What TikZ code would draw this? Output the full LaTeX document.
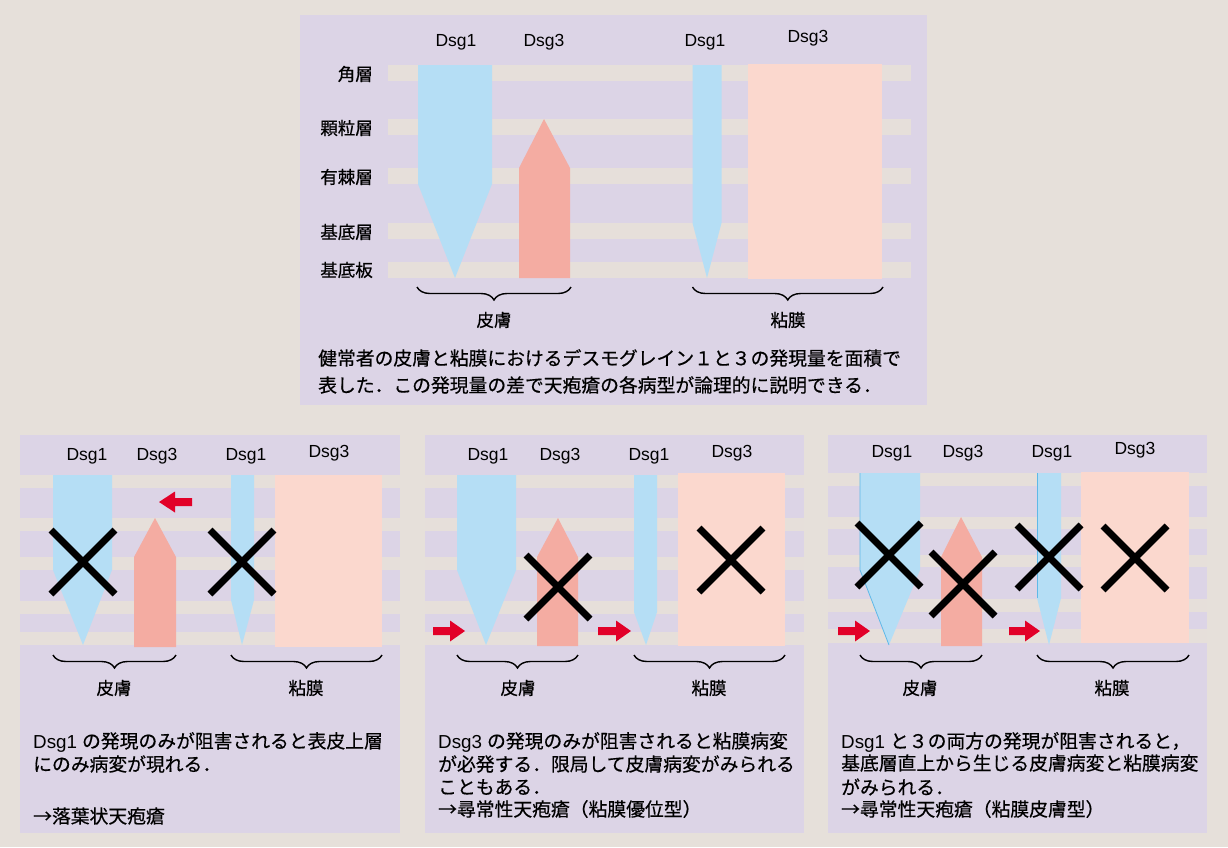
\documentclass[tikz,border=0pt]{standalone}
\usepackage{fontspec}
\setmainfont{Liberation Sans}
\newfontfamily\jp[FakeBold=0.5]{Noto Sans CJK JP}
\usetikzlibrary{decorations.pathreplacing,calc}
\definecolor{bgc}{RGB}{230,224,218}
\definecolor{pan}{RGB}{220,212,230}
\definecolor{stripe}{RGB}{230,223,218}
\definecolor{dblue}{RGB}{181,222,245}
\definecolor{eblue}{RGB}{95,185,232}
\definecolor{salmon}{RGB}{244,172,162}
\definecolor{pinkc}{RGB}{251,216,206}
\definecolor{redc}{RGB}{226,0,40}
\tikzset{
  dsg/.style={inner sep=0pt, font=\fontsize{17.5}{20}\selectfont},
  lay/.style={inner sep=0pt, anchor=east, font=\jp\fontsize{17.5}{20}\selectfont},
  part/.style={inner sep=0pt, font=\jp\fontsize{17.5}{20}\selectfont},
  body/.style={inner sep=0pt, anchor=west, font=\jp\fontsize{18.8}{22}\selectfont},
  bracestyle/.style={decorate, decoration={brace, mirror, amplitude=13pt}, line width=1.4pt, black},
  xmark/.style={line width=7pt, black},
  edge1/.style={eblue, line width=0.8pt}
}
\newcommand{\myrarrow}[3]{% tail x, tip x, y
  \fill[redc] (#2,#3) -- (#2-15,#3-10.5) -- (#2-15,#3-4) -- (#1,#3-4) -- (#1,#3+4) -- (#2-15,#3+4) -- (#2-15,#3+10.5) -- cycle;}
\newcommand{\myxmark}[3]{% name, x, y
  \coordinate (#1) at (#2,#3);
  \draw[xmark] ($(#1)+(-32,-32)$) -- ($(#1)+(32,32)$);
  \draw[xmark] ($(#1)+(-32,32)$) -- ($(#1)+(32,-32)$);}
\begin{document}
\begin{tikzpicture}[x=1pt,y=-1pt]
\fill[bgc] (0,0) rectangle (1228,847);
\useasboundingbox (0,0) rectangle (1228,847);

% ================= TOP PANEL =================
\fill[pan] (300,15) rectangle (927,405);
\foreach \y in {65,119,168,223,262} \fill[stripe] (388,\y) rectangle (911,\y+16);
\fill[dblue] (418,65) -- (492,65) -- (492,184) -- (455,278) -- (418,184) -- cycle;
\fill[salmon] (519,278) -- (519,168) -- (544,119) -- (570,168) -- (570,278) -- cycle;
\fill[dblue] (692.5,65) -- (721.5,65) -- (721.5,223) -- (707,278) -- (692.5,223) -- cycle;
\fill[pinkc] (748,64) rectangle (882,279);
\node[dsg] (t1) at (456,42) {Dsg1};
\node[dsg] (t2) at (544,42) {Dsg3};
\node[dsg] (t3) at (705,42) {Dsg1};
\node[dsg] (t4) at (808,38) {Dsg3};
\node[lay] (l1) at (373,74) {角層};
\node[lay] (l2) at (373,128) {顆粒層};
\node[lay] (l3) at (373,177) {有棘層};
\node[lay] (l4) at (373,232) {基底層};
\node[lay] (l5) at (373,270) {基底板};
\coordinate (tba) at (417,287); \coordinate (tbb) at (571,287);
\coordinate (tbc) at (692.5,287); \coordinate (tbd) at (883,287);
\draw[bracestyle] (tba) -- (tbb);
\draw[bracestyle] (tbc) -- (tbd);
\node[part] (tp1) at (494,320) {皮膚};
\node[part] (tp2) at (788,320) {粘膜};
\node[body] (tx1) at (318,358) {健常者の皮膚と粘膜におけるデスモグレイン１と３の発現量を面積で};
\node[body] (tx2) at (318,385) {表した．この発現量の差で天疱瘡の各病型が論理的に説明できる．};

% ================= PANEL 1 =================
\fill[pan] (20,435) rectangle (400,833);
\foreach \a/\b in {475/488,518/531,557/570,601/614,632/645} \fill[stripe] (20,\a) rectangle (400,\b);
\fill[dblue] (53,475) -- (112,475) -- (112,570) -- (83,645) -- (53,570) -- cycle;
\fill[salmon] (134,647) -- (134,557) -- (155,518) -- (176,557) -- (176,647) -- cycle;
\fill[dblue] (231,475) -- (254,475) -- (254,600) -- (242,645) -- (231,600) -- cycle;
\fill[pinkc] (275,475) rectangle (382,647);
\fill[redc] (159,502) -- (175,491.5) -- (175,498) -- (192,498) -- (192,506) -- (175,506) -- (175,512.5) -- cycle;
\myxmark{xa}{83}{562}
\myxmark{xb}{242}{562}
\node[dsg] (a1) at (87,456) {Dsg1};
\node[dsg] (a2) at (157,456) {Dsg3};
\node[dsg] (a3) at (246,456) {Dsg1};
\node[dsg] (a4) at (329,453) {Dsg3};
\coordinate (aba) at (53,655); \coordinate (abb) at (176,655);
\coordinate (abc) at (231,655); \coordinate (abd) at (382,655);
\draw[bracestyle] (aba) -- (abb);
\draw[bracestyle] (abc) -- (abd);
\node[part] (ap1) at (114,688) {皮膚};
\node[part] (ap2) at (306,688) {粘膜};
\node[body] (ax1) at (33,742) {\textrm{Dsg1}\hspace{5pt}の発現のみが阻害されると表皮上層};
\node[body] (ax2) at (33,764) {にのみ病変が現れる．};
\node[body] (ax3) at (33,816) {→落葉状天疱瘡};

% ================= PANEL 2 =================
\fill[pan] (425,435) rectangle (804,833);
\foreach \a/\b in {475/488,518/531,557/570,601/614,632/645} \fill[stripe] (425,\a) rectangle (804,\b);
\fill[dblue] (457,475) -- (516,475) -- (516,570) -- (486,645) -- (457,570) -- cycle;
\fill[salmon] (537,646) -- (537,557) -- (558,518) -- (578,557) -- (578,646) -- cycle;
\fill[dblue] (634,475) -- (657,475) -- (657,612) -- (646,645) -- (634,612) -- cycle;
\fill[pinkc] (678,473) rectangle (785,646);
\myrarrow{433}{465}{631}
\myrarrow{598}{631}{631}
\myxmark{xc}{558}{587}
\myxmark{xd}{731}{560}
\node[dsg] (b1) at (488,456) {Dsg1};
\node[dsg] (b2) at (560,456) {Dsg3};
\node[dsg] (b3) at (649,456) {Dsg1};
\node[dsg] (b4) at (732,453) {Dsg3};
\coordinate (bba) at (457,655); \coordinate (bbb) at (578,655);
\coordinate (bbc) at (634,655); \coordinate (bbd) at (785,655);
\draw[bracestyle] (bba) -- (bbb);
\draw[bracestyle] (bbc) -- (bbd);
\node[part] (bp1) at (518,688) {皮膚};
\node[part] (bp2) at (709,688) {粘膜};
\node[body] (bx1) at (438,742) {\textrm{Dsg3}\hspace{5pt}の発現のみが阻害されると粘膜病変};
\node[body] (bx2) at (438,764) {が必発する．限局して皮膚病変がみられる};
\node[body] (bx3) at (438,787) {こともある．};
\node[body] (bx4) at (438,809) {→尋常性天疱瘡（粘膜優位型）};

% ================= PANEL 3 =================
\fill[pan] (828,435) rectangle (1207,833);
\foreach \a/\b in {473/486,517/529,555/567,599/612,629/643} \fill[stripe] (828,\a) rectangle (1207,\b);
\fill[dblue] (860,473) -- (920,473) -- (920,570) -- (889,645) -- (860,570) -- cycle;
\draw[edge1] (860,473) -- (860,570) -- (889,645);
\fill[salmon] (941,646) -- (941,557) -- (961,517) -- (982,557) -- (982,646) -- cycle;
\fill[dblue] (1037,473) -- (1061,473) -- (1061,598) -- (1049,645) -- (1037,598) -- cycle;
\draw[edge1] (1037,473) -- (1037,598);
\fill[pinkc] (1081,472) rectangle (1189,643);
\myrarrow{838}{870}{631}
\myrarrow{1009}{1040}{631}
\myxmark{xe}{889}{555}
\myxmark{xf}{963}{584}
\myxmark{xg}{1049}{557}
\myxmark{xh}{1135}{558}
\node[dsg] (c1) at (892,453) {Dsg1};
\node[dsg] (c2) at (963,453) {Dsg3};
\node[dsg] (c3) at (1052,453) {Dsg1};
\node[dsg] (c4) at (1135,450) {Dsg3};
\coordinate (cba) at (860,655); \coordinate (cbb) at (982,655);
\coordinate (cbc) at (1037,655); \coordinate (cbd) at (1189,655);
\draw[bracestyle] (cba) -- (cbb);
\draw[bracestyle] (cbc) -- (cbd);
\node[part] (cp1) at (920,688) {皮膚};
\node[part] (cp2) at (1112,688) {粘膜};
\node[body] (cx1) at (841,742) {\textrm{Dsg1}\hspace{5pt}と３の両方の発現が阻害されると，};
\node[body] (cx2) at (841,763) {基底層直上から生じる皮膚病変と粘膜病変};
\node[body] (cx3) at (841,787) {がみられる．};
\node[body] (cx4) at (841,809) {→尋常性天疱瘡（粘膜皮膚型）};
\end{tikzpicture}
\end{document}
